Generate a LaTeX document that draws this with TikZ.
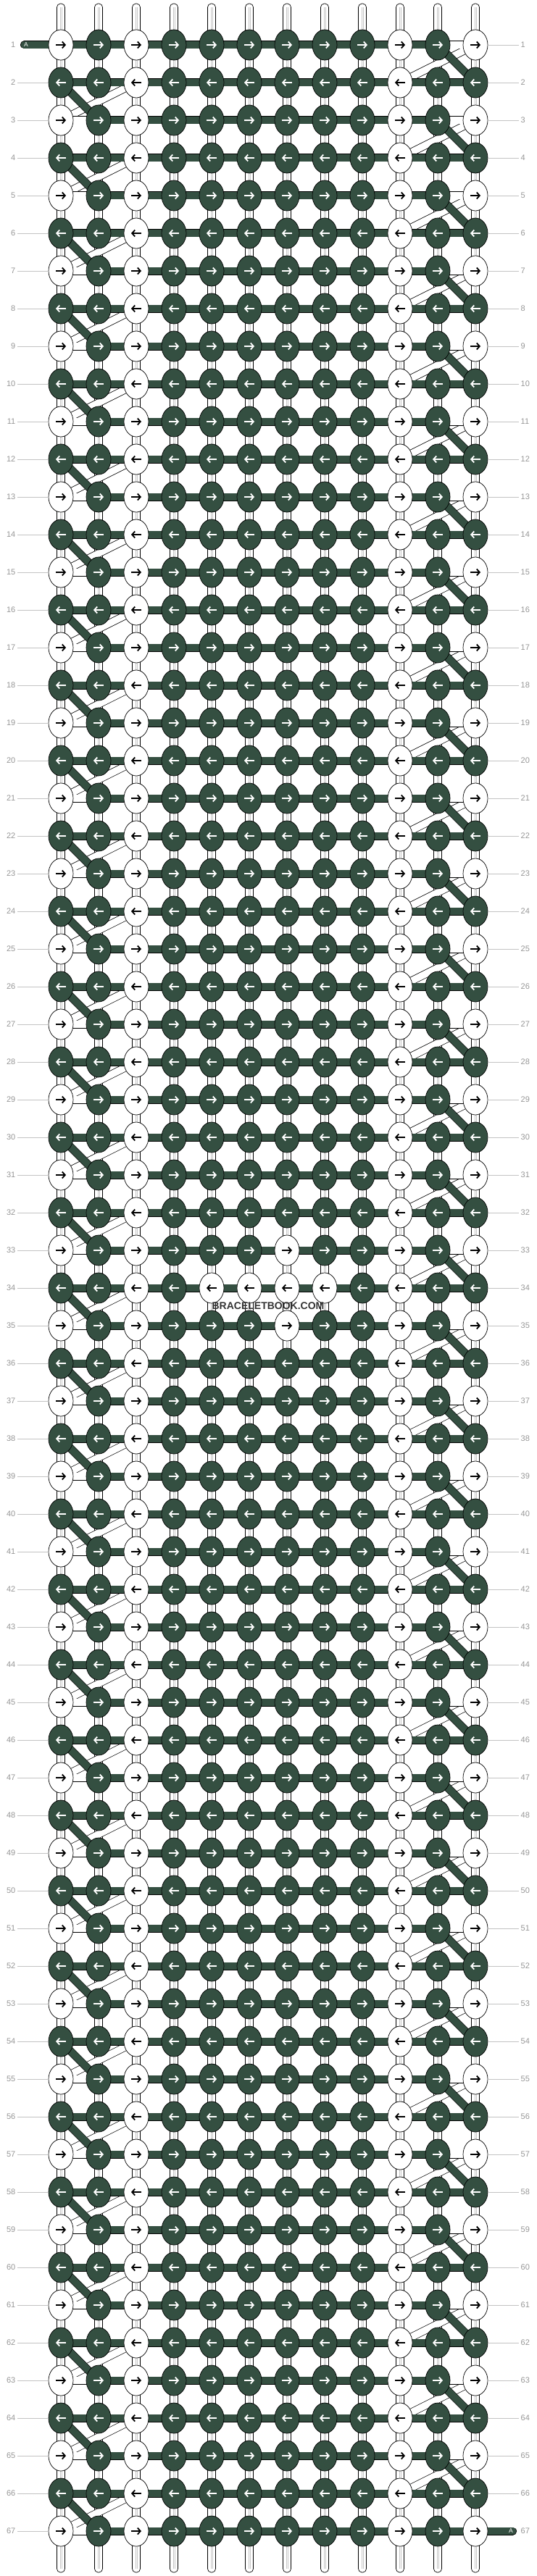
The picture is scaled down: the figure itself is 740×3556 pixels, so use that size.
\documentclass[tikz,border=0pt]{standalone}
\usepackage{fontspec}
\setmainfont{Liberation Sans}
\usepackage{tikz}
\usetikzlibrary{arrows.meta,shapes}
\definecolor{knotgreen}{RGB}{52,79,65}
\definecolor{rowgray}{RGB}{150,150,150}
\definecolor{linegray}{RGB}{195,195,195}

\tikzset{
  knotW/.style={ellipse, draw, line width=0.7pt, fill=white, minimum width=34pt, minimum height=42pt, inner sep=0pt},
  knotD/.style={knotW, fill=knotgreen},
  threadD/.style={draw=black, line width=0.7pt, double=knotgreen, double distance=9.6pt},
  threadW/.style={threadD, double=white},
  strand/.style={draw=black, line width=0.7pt, fill=white, rounded corners=5pt},
  knotarrow/.style={line width=1.8pt, ->, >={Straight Barb[length=4pt,width=9pt]}},
  rowlabel/.style={text=rowgray, font=\fontsize{11}{13}\selectfont, inner sep=2.5pt}
}

\begin{document}
\begin{tikzpicture}[x=1pt,y=-1pt]
	\useasboundingbox (0,0) rectangle (740,3556);

	% knot positions
	\foreach \r in {1,...,67}
		\foreach \c in {1,...,12}
			\coordinate (p-\r-\c) at (32+52*\c, 10+52*\r);

	% vertical strands
	\foreach \c in {1,...,12} {
		\draw[strand] (26.5+52*\c,5) rectangle (37.5+52*\c,3551);
		\draw[gray!45, line width=3pt] (32+52*\c,10) -- (32+52*\c,3546);
		\draw[white, line width=1pt] (32+52*\c,10) -- (32+52*\c,3546);
	}

	% turns at the edges
	\foreach \r in {1,3,...,65} {
		\pgfmathtruncatemacro{\n}{\r+1}
		\draw[threadW] (p-\r-12) -- (p-\n-10);
		\draw[threadD] (p-\r-11) -- (p-\n-12);
	}
	\foreach \r in {2,4,...,66} {
		\pgfmathtruncatemacro{\n}{\r+1}
		\draw[threadW] (p-\r-3) -- (p-\n-1);
		\draw[threadD] (p-\r-1) -- (p-\n-2);
	}

	% horizontal threads
	\foreach \r in {1,...,67}
		\foreach \c in {1,...,11} {
			\pgfmathtruncatemacro{\n}{\c+1}
			\pgfmathtruncatemacro{\w}{(mod(\r,2)==1)&&(((\c==1)&&(\r>1))||((\c==11)&&(\r<67)))}
			\ifnum\w=1
				\draw[threadW] (p-\r-\c) -- (p-\r-\n);
			\else
				\draw[threadD] (p-\r-\c) -- (p-\r-\n);
			\fi
		}

	% thread A in and out
	\coordinate (a-in) at (33.5,62);
	\coordinate (a-out) at (707.5,3494);
	\draw[threadD, line cap=round] (a-in) -- (p-1-1);
	\draw[threadD, line cap=round] (p-67-12) -- (a-out);
	\node[white, font=\fontsize{8.5}{9}\selectfont, inner sep=0pt] at (36,62) {A};
	\node[white, font=\fontsize{8.5}{9}\selectfont, inner sep=0pt] at (705,3494) {A};

	% knots
	\foreach \r in {1,...,67}
		\foreach \c in {1,...,12} {
			\pgfmathtruncatemacro{\w}{(\c==3)||(\c==10)||(((\c==1)||(\c==12))&&(mod(\r,2)==1))||(((\r==33)||(\r==35))&&(\c==7))||((\r==34)&&(\c>4)&&(\c<9))}
			\ifodd\r \def\ax{-7}\def\bx{7}\else \def\ax{7}\def\bx{-7}\fi
			\ifnum\w=1
				\node[knotW] (k-\r-\c) at (p-\r-\c) {};
				\draw[knotarrow, black] ([xshift=\ax pt]k-\r-\c.center) -- ([xshift=\bx pt]k-\r-\c.center);
			\else
				\node[knotD] (k-\r-\c) at (p-\r-\c) {};
				\draw[knotarrow, white] ([xshift=\ax pt]k-\r-\c.center) -- ([xshift=\bx pt]k-\r-\c.center);
			\fi
		}

	% row numbers
	\foreach \r in {1,...,67} {
		\node[rowlabel, anchor=east] (l-\r) at (24,10+52*\r) {\r};
		\node[rowlabel, anchor=west] (m-\r) at (716,10+52*\r) {\r};
	}
	\foreach \r in {2,...,67}
		\draw[linegray] (l-\r.east) -- (k-\r-1.west);
	\foreach \r in {1,...,66}
		\draw[linegray] (k-\r-12.east) -- (m-\r.west);

	\node[font=\bfseries\fontsize{14}{16}\selectfont, text=black!80, inner sep=0pt] (wm) at (370,1803) {BRACELETBOOK.COM};
\end{tikzpicture}
\end{document}
